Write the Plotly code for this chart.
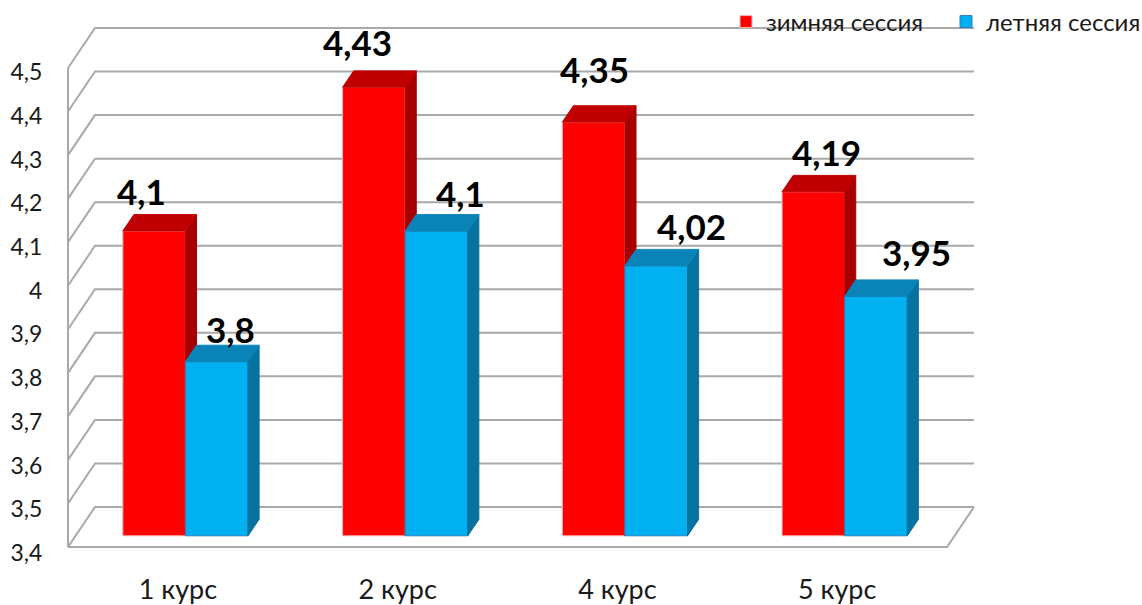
import plotly.graph_objects as go

categories = ["1 курс", "2 курс", "4 курс", "5 курс"]
winter = [4.1, 4.43, 4.35, 4.19]
summer = [3.8, 4.1, 4.02, 3.95]
y_ticks = [3.4, 3.5, 3.6, 3.7, 3.8, 3.9, 4.0, 4.1, 4.2, 4.3, 4.4, 4.5]
y_tick_labels = ["3,4", "3,5", "3,6", "3,7", "3,8", "3,9", "4", "4,1", "4,2", "4,3", "4,4", "4,5"]
winter_labels = ["4,1", "4,43", "4,35", "4,19"]
summer_labels = ["3,8", "4,1", "4,02", "3,95"]

# label nudges in pixels, relative to the front face's top centre
winter_shift = [(-13, 40), (-16, 45), (1, 53), (13, 40)]
summer_shift = [(14, 33), (24, 38), (35, 40), (41, 44)]

FONT = "Lato, Carlito, 'Noto Sans', sans-serif"
GRID = "#a9a9a9"
W, H = 1142, 605
LEFT, RIGHT, TOP, BOTTOM = 68, 947, 68, 547   # front plane, in pixels
PX_X = (RIGHT - LEFT) / 4
PX_Y = (BOTTOM - TOP) / 1.1
DX, DV = 27 / PX_X, 40 / PX_Y          # full depth of the floor, in axis units
D_FRONT, D_BAR = 0.28, 0.41            # depth of bar front face, depth of bar
BASE = y_ticks[0]
BW = 62.6 / PX_X
px, pv = DX * D_FRONT, DV * D_FRONT
bx, bv = DX * D_BAR, DV * D_BAR
x0, x1 = -0.5, 3.5

fig = go.Figure()

# walls and floor
line = dict(color=GRID, width=2)
for v in y_ticks:
    fig.add_trace(go.Scatter(
        x=[x0, x0 + DX, x1 + DX], y=[v, v + DV, v + DV], mode="lines",
        line=line, showlegend=False, hoverinfo="skip", zorder=0))
fig.add_trace(go.Scatter(
    x=[x0, x0, None, x0, x1, x1 + DX], y=[y_ticks[-1], BASE, None, BASE, BASE, BASE + DV], mode="lines",
    line=line, showlegend=False, hoverinfo="skip", zorder=0))


def faces(values, left_off, color_top, color_side, z):
    tx, ty, sx, sy = [], [], [], []
    for i, v in enumerate(values):
        xl = i + px + left_off
        xr = xl + BW
        t = v + pv
        b = BASE + pv
        tx += [xl, xl + bx, xr + bx, xr, xl, None]
        ty += [t, t + bv, t + bv, t, t, None]
        sx += [xr, xr + bx, xr + bx, xr, xr, None]
        sy += [t, t + bv, b + bv, b, t, None]
    for fx, fy, c in ((sx, sy, color_side), (tx, ty, color_top)):
        fig.add_trace(go.Scatter(
            x=fx, y=fy, mode="lines", fill="toself", fillcolor=c,
            line=dict(color=c, width=1), showlegend=False, hoverinfo="skip", zorder=z))


def bars(name, values, left_off, color, edge, z):
    fig.add_trace(go.Bar(
        name=name, x=[i + px for i in range(len(values))],
        y=[v - BASE for v in values], base=BASE + pv,
        width=BW, offset=left_off, marker=dict(color=color, line=dict(color=edge, width=1)),
        zorder=z))


bars("зимняя сессия", winter, -BW, "#ff0000", "#ffb4b4", 1)
faces(winter, -BW, "#c00000", "#a80000", 2)
bars("летняя сессия", summer, 0, "#00b0f0", "#2a7fc4", 3)
faces(summer, 0, "#0a84b8", "#0672a0", 4)

# axis that only carries the tick labels
fig.add_trace(go.Scatter(x=list(range(len(categories))), y=winter, xaxis="x2", yaxis="y2",
                         mode="markers", marker=dict(opacity=0, size=1),
                         showlegend=False, hoverinfo="skip"))

annotations = []
for vals, texts, shifts, off in ((winter, winter_labels, winter_shift, -BW / 2),
                                 (summer, summer_labels, summer_shift, BW / 2)):
    for i, (v, t, s) in enumerate(zip(vals, texts, shifts)):
        annotations.append(dict(
            x=i + px + off, y=v + pv, text=t, showarrow=False, xanchor="center", yanchor="middle",
            xshift=s[0], yshift=s[1],
            font=dict(family=FONT, size=35, color="#000000", weight=700)))

fig.update_layout(
    width=W, height=H,
    margin=dict(l=0, r=0, t=0, b=0, autoexpand=False),
    paper_bgcolor="white", plot_bgcolor="rgba(0,0,0,0)",
    showlegend=True,
    legend=dict(orientation="h", x=726 / W, y=1 - 22 / H,
                xanchor="left", yanchor="middle", bgcolor="rgba(0,0,0,0)",
                font=dict(family=FONT, size=24, color="#1a1a1a"),
                itemwidth=30, entrywidth=175, entrywidthmode="pixels", traceorder="normal"),
    annotations=annotations,
    xaxis=dict(range=[x0 - LEFT / PX_X, x0 + (W - LEFT) / PX_X], visible=False),
    yaxis=dict(range=[BASE - (H - BOTTOM) / PX_Y, BASE + BOTTOM / PX_Y], visible=False),
    xaxis2=dict(domain=[LEFT / W, RIGHT / W], range=[x0, x1], anchor="y2",
                tickmode="array", tickvals=list(range(len(categories))),
                ticktext=categories, showgrid=False, zeroline=False, showline=False,
                ticks="outside", ticklen=13, tickcolor="rgba(0,0,0,0)",
                tickfont=dict(family=FONT, size=27, color="#1a1a1a")),
    yaxis2=dict(domain=[1 - 553 / H, 1 - 72 / H], range=[y_ticks[0], y_ticks[-1]], anchor="x2",
                tickmode="array", tickvals=y_ticks,
                ticktext=y_tick_labels, showgrid=False, zeroline=False, showline=False,
                ticks="outside", ticklen=20, tickcolor="rgba(0,0,0,0)",
                tickfont=dict(family=FONT, size=23, color="#1a1a1a")),
)
fig.write_html("out.html", config=dict(displayModeBar=False),
               post_script="document.body.style.margin='0';document.body.style.overflow='hidden';")
